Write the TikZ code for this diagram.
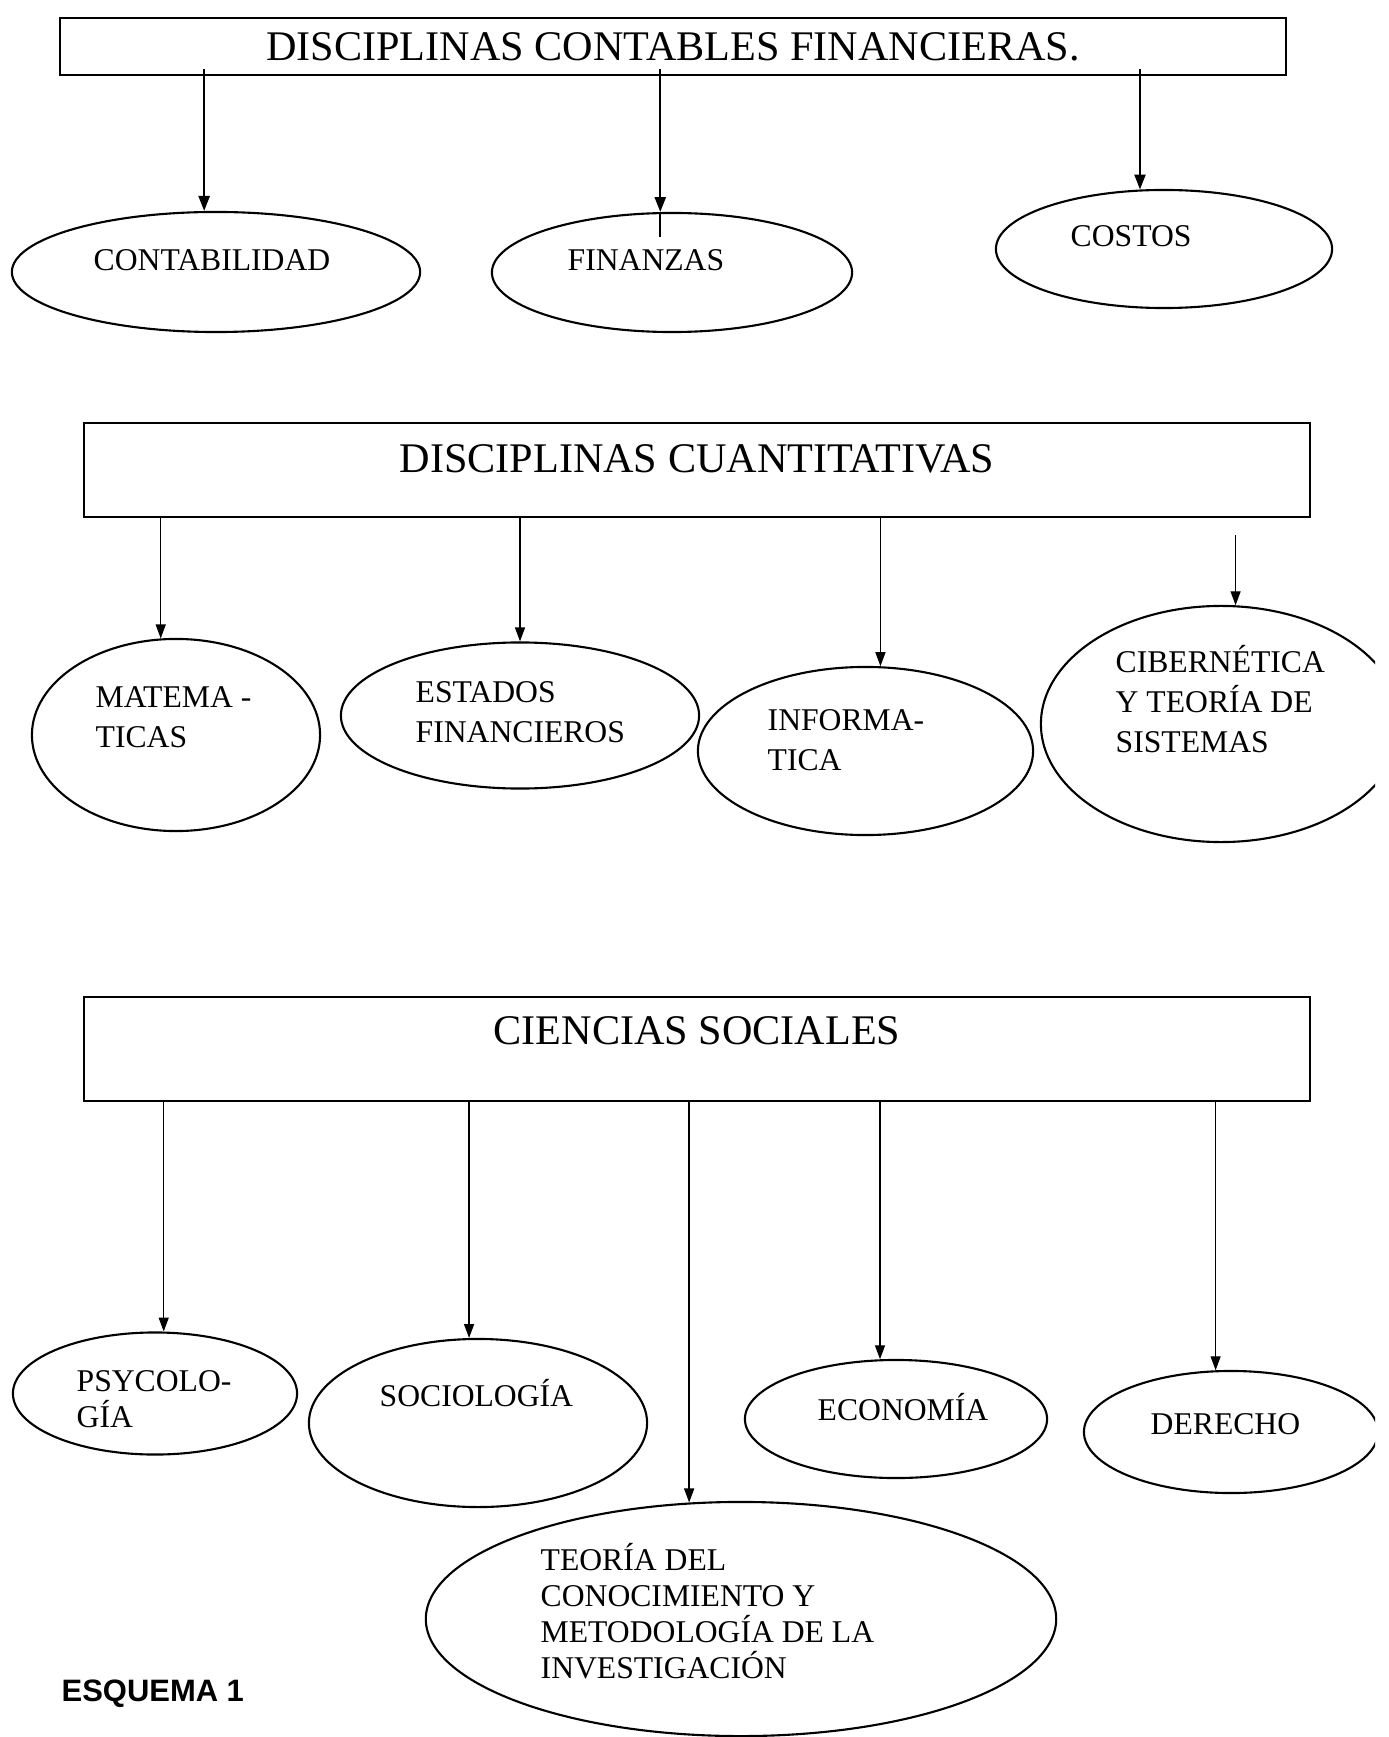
\documentclass[tikz,border=0pt]{standalone}
\usepackage{fontspec}
\setmainfont{Liberation Serif}
\setsansfont{Liberation Sans}
\usetikzlibrary{shapes.geometric,arrows.meta}
\begin{document}
\begin{tikzpicture}[x=0.01cm, y=-0.01cm,
  caja/.style={draw, line width=0.6pt, minimum width=12.26cm, inner sep=0pt, font=\fontsize{12}{14}\selectfont},
  oval/.style={draw, ellipse, line width=0.6pt, inner sep=0pt},
  txt/.style={anchor=base west, align=left, inner sep=0pt, font=\fontsize{9}{11.3}\selectfont},
  flecha/.style={-{Triangle[length=0.15cm,width=0.11cm]}, line width=0.7pt},
  flechita/.style={-{Triangle[length=0.14cm,width=0.1cm]}, line width=0.4pt}]
\useasboundingbox (0,0) rectangle (1388,1737);
\clip (0,0) rectangle (1375,1737);
% disciplinas contables financieras
\node[caja, minimum height=0.57cm] (b1) at (673,46.5) {DISCIPLINAS CONTABLES FINANCIERAS.};
\node[oval, minimum width=4.08cm, minimum height=1.2cm] (c1) at (216,272) {};
\node[oval, minimum width=3.6cm, minimum height=1.19cm] (c2) at (672,272.5) {};
\node[oval, minimum width=3.36cm, minimum height=1.18cm] (c3) at (1164,249) {};
\node[txt] (c1t) at (93,271) {CONTABILIDAD};
\node[txt] (c2t) at (567,271) {FINANZAS};
\node[txt] (c3t) at (1070,247) {COSTOS};
\draw[flecha, shorten <=-0.07cm] (c1.101 |- b1.south) -- (c1.101);
\draw[flecha, shorten <=-0.07cm] (c2.101 |- b1.south) -- (c2.101);
\draw[line width=0.7pt] (c2.101) -- ++(0,25);
\draw[flecha, shorten <=-0.07cm] (c3.112 |- b1.south) -- (c3.112);
% disciplinas cuantitativas
\node[caja, minimum height=0.94cm, text depth=0.22cm] (b2) at (697,470) {DISCIPLINAS CUANTITATIVAS};
\node[oval, minimum width=2.88cm, minimum height=1.92cm] (q1) at (176,735) {};
\node[oval, minimum width=3.58cm, minimum height=1.46cm] (q2) at (520,715.5) {};
\node[oval, minimum width=3.35cm, minimum height=1.68cm] (q3) at (865.5,751) {};
\node[oval, minimum width=3.6cm, minimum height=2.36cm] (q4) at (1221,724) {};
% base = ultima linea
\node[txt] (q1t) at (95,747) {MATEMA -\\TICAS};
\node[txt] (q2t) at (415,742) {ESTADOS\\FINANCIEROS};
\node[txt] (q3t) at (767,770) {INFORMA-\\TICA};
\node[txt] (q4t) at (1115,752) {CIBERNÉTICA\\Y TEORÍA DE\\SISTEMAS};
\draw[flechita] (q1.99.5 |- b2.south) -- (q1.99.5);
\draw[flechita] (q2.north |- b2.south) -- (q2.north);
\draw[flechita] (q3.80 |- b2.south) -- (q3.80);
\draw[flechita, shorten <=0.17cm] (q4.83 |- b2.south) -- (q4.83);
% ciencias sociales
\node[caja, minimum height=1.04cm, text depth=0.36cm] (b3) at (697,1049) {CIENCIAS SOCIALES};
\node[oval, minimum width=2.84cm, minimum height=1.22cm] (s1) at (155,1393.5) {};
\node[oval, minimum width=3.38cm, minimum height=1.68cm] (s2) at (478,1423) {};
\node[oval, minimum width=6.3cm, minimum height=2.34cm] (s3) at (741,1619) {};
\node[oval, minimum width=3.02cm, minimum height=1.18cm] (s4) at (896,1419) {};
\node[oval, minimum width=2.94cm, minimum height=1.22cm] (s5) at (1231,1432) {};
\node[txt, font=\fontsize{9}{10.2}\selectfont] (s1t) at (76,1427) {PSYCOLO-\\GÍA};
\node[txt] (s2t) at (379,1406) {SOCIOLOGÍA};
\node[txt, font=\fontsize{9}{10.2}\selectfont] (s3t) at (540,1678) {TEORÍA DEL\\CONOCIMIENTO Y\\METODOLOGÍA DE LA\\INVESTIGACIÓN};
\node[txt] (s4t) at (817,1420) {ECONOMÍA};
\node[txt] (s5t) at (1150,1434) {DERECHO};
\draw[flechita] (s1.82.5 |- b3.south) -- (s1.82.5);
\draw[flechita] (s2.96.8 |- b3.south) -- (s2.96.8);
\draw[flechita] (s3.114.7 |- b3.south) -- (s3.114.7);
\draw[flechita] (s4.105 |- b3.south) -- (s4.105);
\draw[flechita] (s5.104 |- b3.south) -- (s5.104);
\node[anchor=base west, inner sep=0pt, font=\sffamily\bfseries\fontsize{8.8}{11}\selectfont] (esq) at (61,1701) {ESQUEMA 1};
\end{tikzpicture}
\end{document}
